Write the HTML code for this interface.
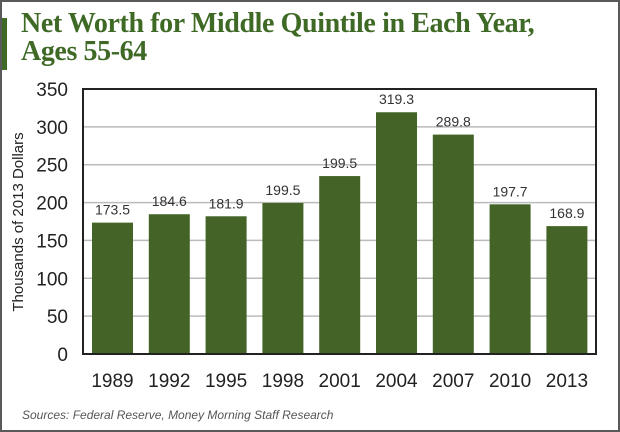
<!DOCTYPE html>
<html><head><meta charset="utf-8"><style>
body{margin:0;width:620px;height:432px;overflow:hidden;background:#fff}
#wrap{position:relative;width:616px;height:428px;border:2px solid #5a5a5a;background:#fff}
#accent{position:absolute;left:0;top:16px;width:5px;height:52px;background:#3f6a26}
#title{position:absolute;left:19px;top:8px;font:bold 28px/28px "Liberation Serif",serif;color:#3f6a26;letter-spacing:-0.4px}
svg{position:absolute;left:-2px;top:-2px}
</style></head><body>
<div id="wrap">
<div id="accent"></div>
<div id="title">Net Worth for Middle Quintile in Each Year,<br>Ages 55-64</div>
<svg id="chart" width="620" height="432"></svg>
</div>
<script>
const categories=["1989","1992","1995","1998","2001","2004","2007","2010","2013"];
const values=[173.5,184.6,181.9,199.5,235,319.3,289.8,197.7,168.9];
const valueLabels=["173.5","184.6","181.9","199.5","199.5","319.3","289.8","197.7","168.9"];
const yTicks=[0,50,100,150,200,250,300,350];
const NS="http://www.w3.org/2000/svg";
const svg=document.getElementById('chart');
const L=83,R=596,T=89,B=354,maxV=350;
const y=v=>B-(v/maxV)*(B-T);
const x=i=>L+9+i*56.8;
const bw=41;
function mk(t,a){const e=document.createElementNS(NS,t);for(const k in a)e.setAttribute(k,a[k]);svg.appendChild(e);return e;}
yTicks.forEach(v=>{
  if(v>0&&v<maxV){const g=mk('line',{x1:L,x2:R,y1:y(v),y2:y(v),stroke:'#bbb','stroke-width':1.5});
  
  }
  const t=mk('text',{x:68,y:y(v)+7,'text-anchor':'end','font-family':'Liberation Sans, sans-serif','font-size':19,fill:'#222'});
  t.textContent=v;
  
  
});
categories.forEach((c,i)=>{
  const r=mk('rect',{x:x(i),y:y(values[i]),width:bw,height:B-y(values[i]),fill:'#436426'});
  
  
  const lb=mk('text',{x:x(i)+bw/2,y:y(values[i])-8,'text-anchor':'middle','font-family':'Liberation Sans, sans-serif','font-size':14,fill:'#333'});
  lb.textContent=valueLabels[i];
  
  
  const xl=mk('text',{x:x(i)+bw/2,y:387,'text-anchor':'middle','font-family':'Liberation Sans, sans-serif','font-size':19,fill:'#222'});
  xl.textContent=c;
  
  
});
const ax=mk('rect',{x:L,y:T,width:R-L,height:B-T,fill:'none',stroke:'#222','stroke-width':2});


const yt=mk('text',{x:0,y:0,transform:'translate(23,222) rotate(-90)','text-anchor':'middle','font-family':'Liberation Sans, sans-serif','font-size':15,fill:'#222'});
yt.textContent='Thousands of 2013 Dollars';


const src=mk('text',{x:22,y:419,'font-family':'Liberation Sans, sans-serif','font-size':12,'font-style':'italic',fill:'#555'});
src.textContent='Sources: Federal Reserve, Money Morning Staff Research';


</script>
</body></html>
